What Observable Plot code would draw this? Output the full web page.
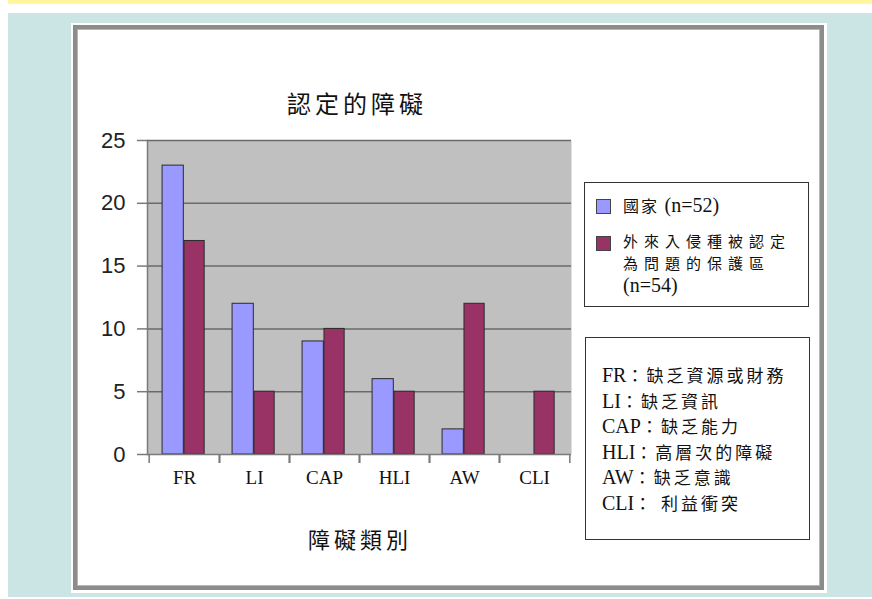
<!DOCTYPE html>
<html><head><meta charset="utf-8">
<script src="https://cdn.jsdelivr.net/npm/d3@7"></script>
<script src="https://cdn.jsdelivr.net/npm/@observablehq/plot@0.6"></script>
<style>
html,body{margin:0;padding:0;}
body{background:#fff;width:872px;height:599px;overflow:hidden;position:relative;font-family:"Noto Sans CJK TC","Noto Sans CJK SC",sans-serif;color:#111;}
#bg{position:absolute;left:8px;top:0;width:864px;height:597px;background:#cbe4e4;}
#yellow{position:absolute;left:8px;top:0;width:864px;height:4px;background:#fff799;}
#white{position:absolute;left:8px;top:4px;width:864px;height:9px;background:#fff;}
#card{position:absolute;left:71px;top:23px;width:756px;height:570px;background:#fff;}
#cardin{position:absolute;left:2px;top:2px;right:3px;bottom:3px;border:4px solid #8c8c8c;box-shadow:inset 0 0 0 1px #b5b5b5;}
#chart{position:absolute;left:80px;top:125px;}
.title{position:absolute;left:255px;top:89px;width:200px;height:28px;line-height:28px;text-align:center;font-size:24px;letter-spacing:4px;padding-left:4px;box-sizing:border-box;}
.xtitle{position:absolute;left:283px;top:524px;width:150px;height:28px;line-height:28px;text-align:center;font-size:22px;letter-spacing:4px;padding-left:4px;box-sizing:border-box;}
.box{position:absolute;border:1px solid #333;background:#fff;box-sizing:border-box;}
#leg1{left:584px;top:182px;width:225px;height:125px;}
#leg2{left:585px;top:337px;width:225px;height:203px;}
.sw{position:absolute;width:13px;height:13px;border:1px solid #444;}
.lt{position:absolute;left:38px;font-size:15px;white-space:nowrap;}
.lt .l{height:22px;line-height:22px;}
.lat{font-family:"Liberation Serif","Times New Roman",serif;font-size:20px;letter-spacing:0;}
.cjk{letter-spacing:6px;}
#abbr{position:absolute;left:16px;top:24px;font-size:17px;white-space:nowrap;}
#abbr .l{height:25.6px;line-height:25.6px;}
</style>
</head><body>
<div id="bg"></div><div id="yellow"></div><div id="white"></div>
<div id="card"><div id="cardin"></div></div>
<div class="title" id="title"></div>
<div id="chart"></div>
<div class="xtitle" id="xtitle"></div>
<div class="box" id="leg1"></div>
<div class="box" id="leg2"><div id="abbr"></div></div>
<script>
const chartTitle = "認定的障礙";
const xTitle = "障礙類別";
const categories = ["FR", "LI", "CAP", "HLI", "AW", "CLI"];
const seriesNames = ["國家 (n=52)", "外來入侵種被認定為問題的保護區 (n=54)"];
const legendLines1 = [["國家 ", "(n=52)"]];
const legendLines2 = [["外來入侵種被認定", ""], ["為問題的保護區", ""], ["", "(n=54)"]];
const countryValues = [23, 12, 9, 6, 2, 0];
const protectedValues = [17, 5, 10, 5, 12, 5];
const yTicks = [0, 5, 10, 15, 20, 25];
const seriesColors = ["#9999ff", "#993366"];
const abbrevCodes = ["FR", "LI", "CAP", "HLI", "AW", "CLI"];
const abbrevMeanings = ["缺乏資源或財務", "缺乏資訊", "缺乏能力", "高層次的障礙", "缺乏意識", " 利益衝突"];

document.getElementById("title").textContent = chartTitle;
document.getElementById("xtitle").textContent = xTitle;

const countryData = categories.map((c, i) => ({category: c, series: seriesNames[0], value: countryValues[i]}));
const protectedData = categories.map((c, i) => ({category: c, series: seriesNames[1], value: protectedValues[i]}));

const W = 510, H = 380, ML = 67, MR = 19, MT = 15, MB = 51;
const bw = (W - ML - MR) / categories.length;
const half = bw / 2;
// bar placement within each category band (style)
const b0 = 0.185 * bw, b1 = 0.495 * bw, b2 = 0.79 * bw;

const plot = Plot.plot({
  width: W, height: H,
  marginLeft: ML, marginRight: MR, marginTop: MT, marginBottom: MB,
  style: {background: "transparent", overflow: "visible"},
  x: {domain: categories, padding: 0, axis: null},
  y: {domain: [0, 25], axis: null},
  marks: [
    Plot.frame({fill: "#c0c0c0", stroke: null}),
    Plot.gridY(yTicks.slice(1), {stroke: "#6a6a6a", strokeOpacity: 1, strokeWidth: 1.5}),
    Plot.barY(countryData.filter(d => d.value > 0), {x: "category", y: "value", fill: seriesColors[0], stroke: "#2a2a2a", strokeWidth: 1, insetLeft: b0, insetRight: bw - b1}),
    Plot.barY(protectedData.filter(d => d.value > 0), {x: "category", y: "value", fill: seriesColors[1], stroke: "#2a2a2a", strokeWidth: 1, insetLeft: b1, insetRight: bw - b2}),
    Plot.ruleY([0], {stroke: "#7a7a7a", strokeWidth: 1.5}),
    Plot.axisY({ticks: yTicks, tickSize: 10, tickPadding: 12, fontSize: 22, fontFamily: "Liberation Sans, Arial, sans-serif", stroke: "#7a7a7a", strokeWidth: 1.5, fill: "#222", label: null}),
    Plot.frame({anchor: "left", stroke: "#7a7a7a", strokeWidth: 1.5}),
    Plot.axisX({anchor: "bottom", tickSize: 9, dx: -half, tickFormat: () => "", stroke: "#7a7a7a", strokeWidth: 1.5, label: null}),
    Plot.axisX({anchor: "bottom", tickSize: 9, dx: half, tickFormat: () => "", stroke: "#7a7a7a", strokeWidth: 1.5, label: null}),
    Plot.axisX({anchor: "bottom", tickSize: 0, tickPadding: 16, fontSize: 19, fontFamily: "Liberation Serif, Times New Roman, serif", fill: "#111", label: null})
  ]
});
document.getElementById("chart").appendChild(plot);

// legend
function legendEntry(box, color, lines, swTop, txtTop) {
  const sw = document.createElement("div");
  sw.className = "sw"; sw.style.left = "11px"; sw.style.top = swTop + "px"; sw.style.background = color;
  box.appendChild(sw);
  const t = document.createElement("div");
  t.className = "lt"; t.style.top = txtTop + "px";
  lines.forEach(([cjk, lat]) => {
    const l = document.createElement("div"); l.className = "l";
    if (cjk) {
      const s = document.createElement("span"); s.textContent = cjk;
      if (lat) { s.style.letterSpacing = "2px"; s.style.fontSize = "16px"; } else s.className = "cjk";
      l.appendChild(s);
    }
    if (lat) { const s = document.createElement("span"); s.className = "lat"; s.textContent = lat; l.appendChild(s); }
    t.appendChild(l);
  });
  box.appendChild(t);
}
const leg1 = document.getElementById("leg1");
legendEntry(leg1, seriesColors[0], legendLines1, 16, 11);
legendEntry(leg1, seriesColors[1], legendLines2, 53, 47);

const abbr = document.getElementById("abbr");
abbrevCodes.forEach((code, i) => {
  const l = document.createElement("div"); l.className = "l";
  const a = document.createElement("span"); a.className = "lat"; a.textContent = code; l.appendChild(a);
  const b = document.createElement("span"); b.style.letterSpacing = "3px"; b.textContent = "：" + abbrevMeanings[i]; l.appendChild(b);
  abbr.appendChild(l);
});
</script>
</body></html>
